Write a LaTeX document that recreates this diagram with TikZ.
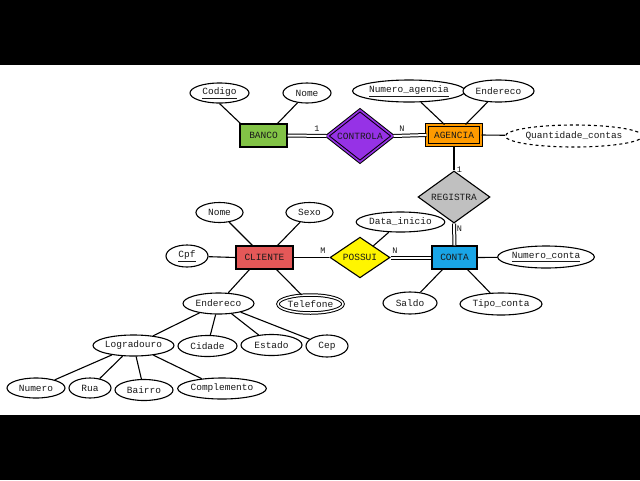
\documentclass[tikz,border=0pt]{standalone}
\usepackage{fontspec}
\newfontfamily\cour{Liberation Mono}
\usetikzlibrary{shapes.geometric,calc}
\definecolor{cbanco}{RGB}{130,195,70}
\definecolor{cpurple}{RGB}{150,50,230}
\definecolor{corange}{RGB}{255,155,0}
\definecolor{cgray}{RGB}{192,192,192}
\definecolor{cred}{RGB}{228,88,88}
\definecolor{cyellow}{RGB}{255,245,0}
\definecolor{cblue}{RGB}{25,165,230}
\definecolor{ctext}{RGB}{25,25,25}
\begin{document}
\begin{tikzpicture}[x=1pt,y=-1pt,
  every node/.style={font=\cour\fontsize{9.5}{11}\selectfont, text=ctext},
  attr/.style={ellipse, draw, line width=1.1pt, inner sep=0pt, fill=white},
  ent/.style={rectangle, draw, line width=1.1pt, inner sep=0pt},
  rel/.style={diamond, draw, line width=1.1pt, inner sep=0pt},
  conn/.style={line width=1.1pt},
  dconn/.style={double, double distance=2pt, line width=1pt},
  card/.style={inner sep=0pt, font=\cour\fontsize{8.5}{10}\selectfont}
]
\useasboundingbox (0,0) rectangle (640,480);
\fill[white] (0,0) rectangle (640,480);
\fill[black] (0,0) rectangle (640,65);
\fill[black] (0,415) rectangle (640,480);

% entities
\node[ent, fill=cbanco, minimum width=47pt, minimum height=23pt] (banco) at (263.5,135.5) {BANCO};
\node[ent, fill=corange, double=corange, double distance=1.6pt, line width=1pt, minimum width=54pt, minimum height=20pt] (agencia) at (454,135) {AGENCIA};
\node[ent, fill=cred, minimum width=57pt, minimum height=23pt] (cliente) at (264.5,257.5) {CLIENTE};
\node[ent, fill=cblue, minimum width=45pt, minimum height=23pt] (conta) at (454.5,257.5) {CONTA};

% relationships
\node[rel, fill=cpurple, double=cpurple, double distance=1.6pt, line width=1pt, minimum width=66pt, minimum height=39pt] (controla) at (360,136) {CONTROLA};
\node[rel, fill=cgray, minimum width=72pt, minimum height=42pt] (registra) at (454,197) {REGISTRA};
\node[rel, fill=cyellow, minimum width=60pt, minimum height=37pt] (possui) at (360,257.5) {POSSUI};

% attributes
\node[attr, minimum width=59pt, minimum height=20pt] (codigo) at (219.5,93) {\underline{Codigo}};
\node[attr, minimum width=48pt, minimum height=20pt] (nomeb) at (307,93) {Nome};
\node[attr, minimum width=105pt, minimum height=22pt] (numag) at (409,91) {\underline{Numero\_agencia}};
\node[attr, minimum width=71pt, minimum height=22pt] (endag) at (498.5,91) {Endereco};
\node[attr, dashed, minimum width=118pt, minimum height=22pt] (quant) at (574,136) {Quantidade\_contas};

\node[attr, minimum width=47pt, minimum height=20pt] (nomec) at (219.5,212.5) {Nome};
\node[attr, minimum width=47pt, minimum height=20pt] (sexo) at (309.5,212.5) {Sexo};
\node[attr, minimum width=42pt, minimum height=22pt] (cpf) at (187,256) {\underline{Cpf}};
\node[attr, minimum width=87pt, minimum height=20pt] (datain) at (400.5,222) {Data\_inicio};
\node[attr, minimum width=92pt, minimum height=22pt] (numconta) at (546,257) {\underline{Numero\_conta}};
\node[attr, minimum width=54pt, minimum height=22pt] (saldo) at (410,303) {Saldo};
\node[attr, minimum width=82pt, minimum height=22pt] (tipo) at (501,304) {Tipo\_conta};

\node[attr, minimum width=71pt, minimum height=21pt] (endc) at (218.5,303.5) {Endereco};
\node[attr, double, double distance=1.5pt, line width=1pt, minimum width=65pt, minimum height=18pt] (tel) at (310.5,304) {Telefone};
\node[attr, minimum width=81pt, minimum height=21pt] (lograd) at (133.5,345.5) {Logradouro};
\node[attr, minimum width=59pt, minimum height=21pt] (cidade) at (207.5,346) {Cidade};
\node[attr, minimum width=61pt, minimum height=21pt] (estado) at (271.5,345) {Estado};
\node[attr, minimum width=42pt, minimum height=22pt] (cep) at (327,346) {Cep};
\node[attr, minimum width=58pt, minimum height=20pt] (numero) at (36,388) {Numero};
\node[attr, minimum width=42pt, minimum height=20pt] (rua) at (90,388) {Rua};
\node[attr, minimum width=58pt, minimum height=21pt] (bairro) at (144,390) {Bairro};
\node[attr, minimum width=88pt, minimum height=21pt] (compl) at (222,388.5) {Complemento};

% connectors
\draw[dconn] (banco.east) -- (controla.west);
\draw[dconn] (controla.east) -- (agencia.west);
\draw[conn] (agencia.south) -- (registra.north);
\draw[dconn] (registra.south) -- (conta.north);
\draw[conn] (cliente.east) -- (possui.west);
\draw[dconn] (possui.east) -- (conta.west);

\draw[conn] (codigo.south) -- ([xshift=1pt]banco.north west);
\draw[conn] (nomeb) -- ([xshift=-10pt]banco.north east);
\draw[conn] (numag) -- ([xshift=18pt]agencia.north west);
\draw[conn] (endag) -- ([xshift=-16pt]agencia.north east);
\draw[conn] (agencia.east) -- (quant);

\draw[conn] (nomec) -- ([xshift=17pt]cliente.north west);
\draw[conn] (sexo) -- ([xshift=-16pt]cliente.north east);
\draw[conn] (cpf) -- (cliente.west);
\draw[conn] (endc) -- ([xshift=14pt]cliente.south west);
\draw[conn] (tel) -- ([xshift=-17pt]cliente.south east);
\draw[conn] (datain) -- (possui);
\draw[conn] (conta.east) -- (numconta);
\draw[conn] (saldo) -- ([xshift=11pt]conta.south west);
\draw[conn] (tipo) -- ([xshift=-10pt]conta.south east);

\draw[conn] (endc) -- (lograd);
\draw[conn] (endc) -- (cidade);
\draw[conn] (endc) -- (estado);
\draw[conn] (endc) -- (cep);
\draw[conn] (lograd) -- (numero);
\draw[conn] (lograd) -- (rua);
\draw[conn] (lograd) -- (bairro);
\draw[conn] (lograd) -- (compl);

% cardinalities
\node[card] (c1) at (317,129) {1};
\node[card] (c2) at (402,129) {N};
\node[card] (c3) at (459.5,170) {1};
\node[card] (c4) at (459.5,229) {N};
\node[card] (c5) at (323,251) {M};
\node[card] (c6) at (395,251) {N};
\end{tikzpicture}
\end{document}
